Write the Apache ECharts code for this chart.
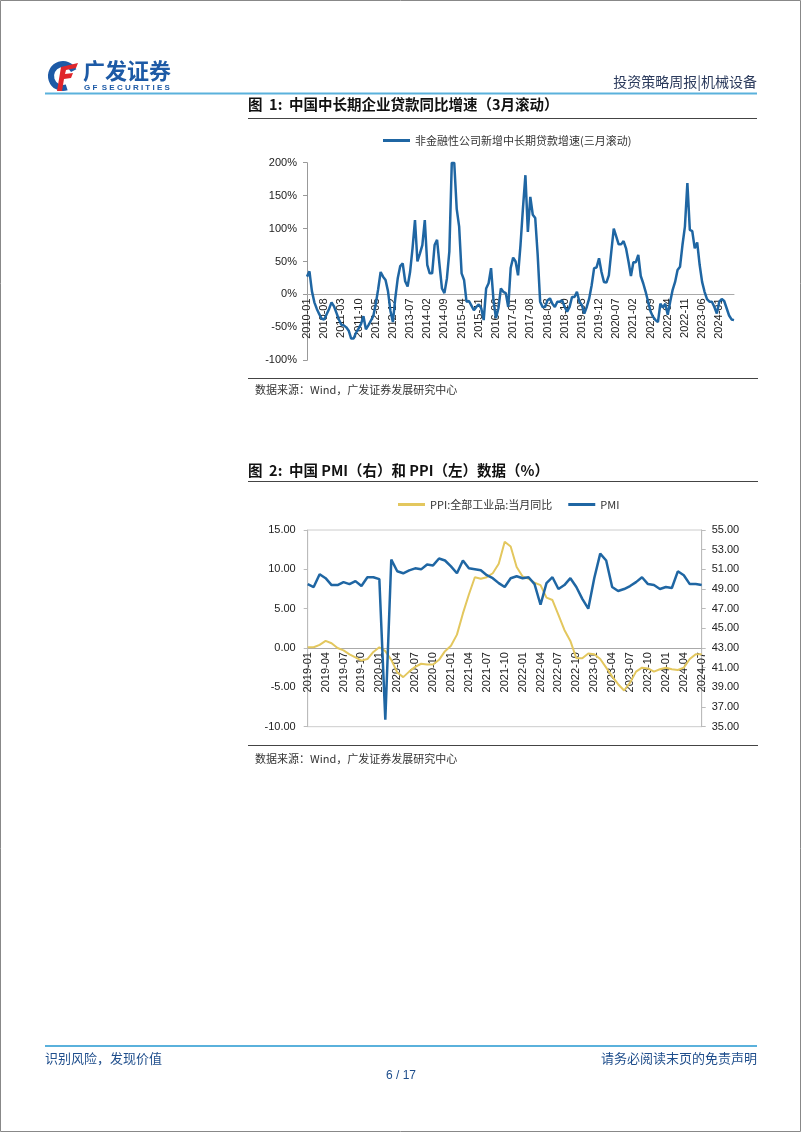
<!DOCTYPE html>
<html>
<head>
<meta charset="utf-8">
<script src="https://cdn.jsdelivr.net/npm/echarts/dist/echarts.min.js"></script>
<style>
html,body{margin:0;padding:0;background:#fff;}
#page{width:802px;height:1133px;}
</style>
</head>
<body>
<div id="page"></div>
<script>
// ---------- data ----------
function monthRange(y0, m0, y1, m1) {
  var out = [];
  for (var y = y0, m = m0; y < y1 || (y === y1 && m <= m1); ) {
    out.push(y + '-' + (m < 10 ? '0' + m : m));
    m++; if (m > 12) { m = 1; y++; }
  }
  return out;
}
var loanMonths = monthRange(2010, 1, 2024, 7);
var loanGrowth = [
  27, 35, 5, -12, -22, -30, -37, -38, -30, -22, -12, -18,
  -28, -38, -46, -47, -50, -55, -67, -67, -58, -52, -45, -33,
  -53, -47, -40, -33, -15, 8, 34, 27, 22, 5, -25, -42,
  -5, 25, 43, 47, 20, 12, 34, 70, 113, 50, 62, 75,
  113, 45, 32, 32, 75, 83, 45, 9, 2, 24, 65, 200,
  200, 130, 103, 32, 22, -11, -10, -17, -24, -19, -15, -21,
  -39, 9, 17, 40, -9, -36, -21, 9, 4, 2, -19, 40,
  56, 50, 29, 75, 131, 181, 95, 148, 121, 116, 60, -11,
  -19, -19, -9, -6, -14, -19, -11, -11, -9, -19, -26, -19,
  -4, -4, 4, -11, -16, -29, -19, -6, 14, 40, 41, 55,
  34, 19, 18, 29, 65, 100, 88, 76, 76, 81, 70, 50,
  28, 49, 49, 60, 28, 17, 4, -11, -26, -34, -39, -42,
  -14, -20, -14, -31, -11, 7, 19, 37, 42, 75, 103, 169,
  98, 96, 70, 79, 45, 19, 4, -7, -11, -11, -19, -29,
  -11, -7, -10, -21, -32, -38, -39
];
var macroMonths = monthRange(2019, 1, 2024, 7);
var ppi = [
  0.1, 0.1, 0.4, 0.9, 0.6, 0.0, -0.3, -0.8, -1.2, -1.6, -1.4, -0.5,
  0.1, -0.4, -1.5, -3.1, -3.7, -3.0, -2.4, -2.0, -2.1, -2.1, -1.5, -0.4,
  0.3, 1.7, 4.4, 6.8, 9.0, 8.8, 9.0, 9.5, 10.7, 13.5, 12.9, 10.3,
  9.1, 8.8, 8.3, 8.0, 6.4, 6.1, 4.2, 2.3, 0.9, -1.3, -1.3, -0.7,
  -0.8, -1.4, -2.5, -3.6, -4.6, -5.4, -4.4, -3.0, -2.5, -2.6, -3.0, -2.7,
  -2.5, -2.7, -2.8, -2.5, -1.4, -0.8, -0.8
];
var pmi = [
  49.5, 49.2, 50.5, 50.1, 49.4, 49.4, 49.7, 49.5, 49.8, 49.3, 50.2, 50.2,
  50.0, 35.7, 52.0, 50.8, 50.6, 50.9, 51.1, 51.0, 51.5, 51.4, 52.1, 51.9,
  51.3, 50.6, 51.9, 51.1, 51.0, 50.9, 50.4, 50.1, 49.6, 49.2, 50.1, 50.3,
  50.1, 50.2, 49.5, 47.4, 49.6, 50.2, 49.0, 49.4, 50.1, 49.2, 48.0, 47.0,
  50.1, 52.6, 51.9, 49.2, 48.8, 49.0, 49.3, 49.7, 50.2, 49.5, 49.4, 49.0,
  49.2, 49.1, 50.8, 50.4, 49.5, 49.5, 49.4
];
var loanTicks = [-100, 200, 50];
var ppiTicks = [-10, 15, 5];
var pmiTicks = [35, 55, 2];
var loanName = '非金融性公司新增中长期贷款增速(三月滚动)';
var ppiName = 'PPI:全部工业品:当月同比';
var pmiName = 'PMI';

// ---------- styles ----------
var CJK = '"Noto Sans CJK SC", sans-serif';
var LAT = '"Liberation Sans", Arial, sans-serif';
var BLUE = '#1F66A3';
var GOLD = '#E3C75E';
var axisLab = {fontFamily: LAT, fontSize: 11, color: '#222'};

// grid geometry (pixels)
var g1 = {left: 307, top: 162.7, width: 427, height: 197.6};
var g2 = {left: 307.7, top: 530, width: 394, height: 196.7};
// x axes sit on the zero line: offset the axis up from the grid bottom
var off1 = -g1.height * (0 - loanTicks[0]) / (loanTicks[1] - loanTicks[0]);
var off2 = -g2.height * (0 - ppiTicks[0]) / (ppiTicks[1] - ppiTicks[0]);

function txt(x, y, s, font, fill, align) {
  return {type: 'text', x: x, y: y, silent: true,
    style: {text: s, font: font, fill: fill, align: align || 'left', verticalAlign: 'middle'}};
}
function ln(x1, y1, x2, y2, c, w) {
  return {type: 'line', silent: true, shape: {x1: x1, y1: y1, x2: x2, y2: y2},
    style: {stroke: c, lineWidth: w}};
}

var graphics = [
  {type: 'rect', silent: true, shape: {x: 0.5, y: 0.5, width: 800, height: 1131},
    style: {fill: null, stroke: '#888', lineWidth: 1}},
  // logo
  {type: 'arc', silent: true, shape: {cx: 63, cy: 76, r: 12, startAngle: Math.PI * 0.4, endAngle: Math.PI * 1.85},
    style: {stroke: '#1D5AA6', lineWidth: 6, fill: null}},
  {type: 'polygon', silent: true, shape: {points: [[61, 67], [78, 63], [76, 68], [66, 70], [65, 74], [73, 73], [71, 78], [64, 79], [62, 91], [57, 91]]},
    style: {fill: '#E0262B'}},
  txt(83, 71, '广发证券', 'bold 22px ' + CJK, '#1D5AA6'),
  txt(84, 88, 'G F  S E C U R I T I E S', 'bold 8px ' + LAT, '#1D5AA6'),
  txt(757, 82, '投资策略周报|机械设备', '14px ' + CJK, '#2B3A5C', 'right'),
  ln(45, 93.5, 757, 93.5, '#5AB1DC', 2),
  // figure 1
  txt(248, 104, '图  1:  中国中长期企业贷款同比增速（3月滚动）', 'bold 14.5px ' + CJK, '#111'),
  ln(248, 118.5, 757, 118.5, '#444', 1),
  ln(248, 378.5, 758, 378.5, '#444', 1),
  txt(255, 390, '数据来源：Wind，广发证券发展研究中心', '11px ' + CJK, '#333'),
  // figure 2
  txt(248, 470, '图  2:  中国 PMI（右）和 PPI（左）数据（%）', 'bold 14.5px ' + CJK, '#111'),
  ln(248, 481.5, 758, 481.5, '#444', 1),
  ln(248, 745.5, 758, 745.5, '#444', 1),
  txt(255, 759, '数据来源：Wind，广发证券发展研究中心', '11px ' + CJK, '#333'),
  // footer
  ln(45, 1046, 757, 1046, '#5AB1DC', 2),
  txt(45, 1058, '识别风险，发现价值', '13px ' + CJK, '#1F4E8C'),
  txt(757, 1058, '请务必阅读末页的免责声明', '13px ' + CJK, '#1F4E8C', 'right'),
  txt(401, 1076, '6 / 17', '12px ' + LAT, '#1F4E8C', 'center')
];

var chart = echarts.init(document.getElementById('page'), null, {renderer: 'canvas'});
chart.setOption({
  animation: false,
  backgroundColor: '#fff',
  graphic: graphics,
  legend: [
    {left: 383, top: 135, padding: 0, itemWidth: 27, itemHeight: 3, icon: 'rect', itemGap: 16,
      textStyle: {fontFamily: CJK, fontSize: 11, color: '#333'}, data: [loanName]},
    {left: 398, top: 499, padding: 0, itemWidth: 27, itemHeight: 3, icon: 'rect', itemGap: 16,
      textStyle: {fontFamily: CJK, fontSize: 11, color: '#333'}, data: [ppiName, pmiName]}
  ],
  grid: [
    {left: g1.left, top: g1.top, width: g1.width, height: g1.height},
    {left: g2.left, top: g2.top, width: g2.width, height: g2.height, show: true, borderColor: '#ccc', borderWidth: 1}
  ],
  xAxis: [
    {gridIndex: 0, type: 'category', data: loanMonths, boundaryGap: false, offset: off1,
      axisLine: {onZero: false, lineStyle: {color: '#aaa', width: 1}},
      axisTick: {show: false},
      axisLabel: Object.assign({interval: 6, rotate: 90, margin: 4}, axisLab)},
    {gridIndex: 1, type: 'category', data: macroMonths, boundaryGap: false, offset: off2,
      axisLine: {onZero: false, lineStyle: {color: '#aaa', width: 1}},
      axisTick: {show: false},
      axisLabel: Object.assign({interval: 2, rotate: 90, margin: 4}, axisLab)}
  ],
  yAxis: [
    {gridIndex: 0, type: 'value', min: loanTicks[0], max: loanTicks[1], interval: loanTicks[2],
      axisLine: {show: true, lineStyle: {color: '#999'}},
      axisTick: {show: true, length: 4, lineStyle: {color: '#999'}},
      splitLine: {show: false},
      axisLabel: Object.assign({formatter: '{value}%', margin: 10}, axisLab)},
    {gridIndex: 1, type: 'value', position: 'left', min: ppiTicks[0], max: ppiTicks[1], interval: ppiTicks[2],
      axisLine: {show: true, lineStyle: {color: '#bbb'}},
      axisTick: {show: true, length: 4, lineStyle: {color: '#bbb'}},
      splitLine: {show: false},
      axisLabel: Object.assign({formatter: function (v) { return v.toFixed(2); }, margin: 12}, axisLab)},
    {gridIndex: 1, type: 'value', position: 'right', min: pmiTicks[0], max: pmiTicks[1], interval: pmiTicks[2],
      axisLine: {show: true, lineStyle: {color: '#bbb'}},
      axisTick: {show: true, length: 4, lineStyle: {color: '#bbb'}},
      splitLine: {show: false},
      axisLabel: Object.assign({formatter: function (v) { return v.toFixed(2); }, margin: 10}, axisLab)}
  ],
  series: [
    {name: loanName, type: 'line', xAxisIndex: 0, yAxisIndex: 0, data: loanGrowth,
      showSymbol: false, symbol: 'none', clip: true,
      lineStyle: {color: BLUE, width: 2.5}, itemStyle: {color: BLUE}},
    {name: ppiName, type: 'line', xAxisIndex: 1, yAxisIndex: 1, data: ppi,
      showSymbol: false, symbol: 'none',
      lineStyle: {color: GOLD, width: 2}, itemStyle: {color: GOLD}},
    {name: pmiName, type: 'line', xAxisIndex: 1, yAxisIndex: 2, data: pmi,
      showSymbol: false, symbol: 'none',
      lineStyle: {color: BLUE, width: 2.5}, itemStyle: {color: BLUE}}
  ]
});
</script>
</body>
</html>
